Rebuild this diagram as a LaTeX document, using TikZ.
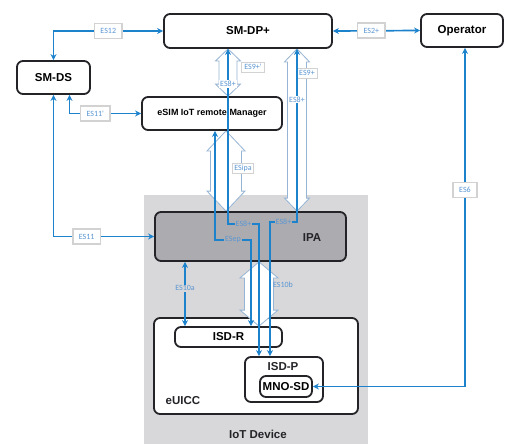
\documentclass[tikz,border=0pt]{standalone}
\usepackage{fontspec}
\setmainfont{Liberation Sans}
\newfontfamily\ifacefont{Carlito}
\usetikzlibrary{arrows.meta,positioning,calc,backgrounds}

\definecolor{esblue}{RGB}{28,130,204}
\definecolor{eslabel}{RGB}{91,150,210}
\definecolor{hollowline}{RGB}{150,180,212}
\definecolor{devgray}{RGB}{216,216,218}
\definecolor{ipagray}{RGB}{172,172,176}
\definecolor{boxline}{RGB}{35,35,40}

% hollow double arrow: upper node, lower node, x, half shaft, half head, head length
\newcommand{\hollowarrow}[6]{%
  \draw[hollow] let \p1=(#3,0), \p2=(#1.south), \p3=(#2.north) in
    (\x1,\y2) -- (\x1+#5pt,\y2-#6pt) -- (\x1+#4pt,\y2-#6pt) -- (\x1+#4pt,\y3+#6pt)
    -- (\x1+#5pt,\y3+#6pt) -- (\x1,\y3) -- (\x1-#5pt,\y3+#6pt) -- (\x1-#4pt,\y3+#6pt)
    -- (\x1-#4pt,\y2-#6pt) -- (\x1-#5pt,\y2-#6pt) -- cycle;}

\begin{document}
\begin{tikzpicture}[
    x=1pt, y=-1pt,
    entity/.style={draw=boxline, line width=1.8pt, rounded corners=6pt, fill=white,
        font=\fontsize{11.5}{13}\selectfont\bfseries, inner sep=0pt},
    caption/.style={font=\fontsize{11.5}{13}\selectfont\bfseries, text=boxline, inner sep=0pt},
    iface/.style={draw=gray!35, fill=white, font=\ifacefont\fontsize{8}{9}\selectfont,
        text=eslabel, inner xsep=6pt, inner ysep=1pt, minimum height=15pt},
    tag/.style={font=\ifacefont\fontsize{8}{9}\selectfont, text=eslabel, inner sep=1pt},
    es/.style={draw=esblue, line width=1.7pt,
        {Stealth[length=6pt,width=6pt]}-{Stealth[length=6pt,width=6pt]}},
    hollow/.style={draw=hollowline, line width=0.8pt, fill=white, line join=miter}
]
\useasboundingbox (0,0) rectangle (508,444);

% Servers
\node[entity, minimum width=168pt, minimum height=34pt] (smdp) at (248,31) {SM-DP+};
\node[entity, minimum width=82pt, minimum height=33pt] (oper) at (462,30.5) {Operator};
\node[entity, minimum width=73pt, minimum height=33pt] (smds) at (53.5,77.5) {SM-DS};
\node[entity, minimum width=140pt, minimum height=33pt, font=\fontsize{9}{11}\selectfont\bfseries]
    (erm) at (212,113.5) {eSIM IoT remote Manager};

% Device
\node[entity, minimum width=191pt, minimum height=49pt, fill=ipagray] (ipa) at (250.5,236.5) {};
\node[caption] (ipalabel) at (312,238) {IPA};
\node[entity, minimum width=107pt, minimum height=20pt] (isdr) at (228.5,337) {ISD-R};
\node[entity, minimum width=78pt, minimum height=45pt] (isdp) at (284,379.5) {};
\node[caption] (isdplabel) at (283,367) {ISD-P};
\node[entity, minimum width=52pt, minimum height=21pt] (mnosd) at (286,386.5) {MNO-SD};

\begin{pgfonlayer}{background}
\node[fill=devgray, minimum width=224pt, minimum height=249pt, inner sep=0pt] (iotdev) at (256,319.5) {};
\node[caption] (iotlabel) at (258,434) {IoT Device};
\node[entity, minimum width=204pt, minimum height=96pt] (euicc) at (256,366) {};
\node[caption] (euicclabel) at (183,401) {eUICC};

% Hollow interfaces
\hollowarrow{smdp}{erm}{228}{9}{12.5}{12}
\hollowarrow{smdp}{ipa}{297}{9.5}{12.5}{13}
\hollowarrow{erm}{ipa}{226}{15.5}{19}{20}
\hollowarrow{ipa}{isdr}{259}{14.5}{19}{16}
\end{pgfonlayer}

\node[iface, minimum height=10pt, inner xsep=3pt] (es9p) at (253,67) {ES9+'};
\node[iface, minimum height=10pt, inner xsep=2pt] (es9) at (307,73) {ES9+};
\node[iface, minimum height=10pt, inner xsep=2pt] (esipa) at (243,168) {ESipa};
\node[tag] (es10b) at (283,285) {ES10b};

% Server interfaces
\draw[es] (smds.north) |- node[iface, pos=0.75] {ES12} (smdp.west);
\draw[es] (smdp.east) -- node[iface, pos=0.44] {ES2+} (oper.west);
\draw[es] ([xshift=16pt]smds.south) |- node[iface, pos=0.68] {ES11'} (erm.west);
\draw[es] (smds.south) |- node[iface, pos=0.665] {ES11} (ipa.west);
\draw[es] ([xshift=3pt]oper.south) |- node[iface, pos=0.21] {ES6} (mnosd.east);

% Device interfaces
\draw[es] (ipa.south -| 185,0) -- node[tag, fill=devgray, pos=0.41] {ES10a} (isdr.north -| 185,0);
\draw[es] (erm.south -| 215,0) |- node[tag, fill=ipagray, pos=0.75] {ESep} (251,240)
    -- (isdr.north -| 251,0);
\draw[es] (smdp.south -| 228,0) |- node[tag, fill=white, pos=0.1] {ES8+}
    node[tag, fill=ipagray, pos=0.75] {ES8+} (259,224) -- (isdp.north -| 259,0);
\draw[es] (smdp.south -| 297,0) |- node[tag, fill=white, pos=0.146] {ES8+}
    node[tag, fill=ipagray, pos=0.75] {ES8+} (270,222) -- (isdp.north -| 270,0);

\end{tikzpicture}
\end{document}
